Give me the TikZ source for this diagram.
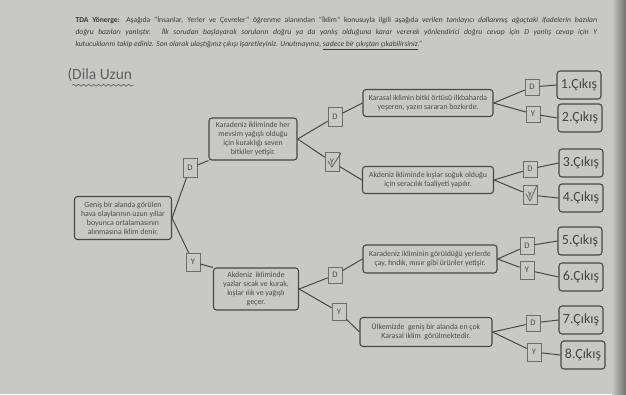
\documentclass[tikz,border=0pt]{standalone}
\usepackage{fontspec}
\setmainfont{Carlito}
\usetikzlibrary{decorations.pathmorphing,calc}
\definecolor{paper}{RGB}{200,200,196}
\definecolor{ink}{RGB}{72,72,72}
\definecolor{txt}{RGB}{75,75,75}
\definecolor{pencil}{RGB}{95,95,100}
\begin{document}
\begin{tikzpicture}[x=1pt,y=-1pt,
  qbox/.style={draw=ink, line width=1.1pt, rounded corners=3pt, fill=paper, align=center, text=txt, inner sep=1pt, font=\fontsize{7.8}{9}\selectfont},
  dybox/.style={draw=ink!80, line width=0.6pt, fill=paper, minimum width=14pt, minimum height=16pt, inner sep=0pt, text=txt, font=\fontsize{8.5}{9}\selectfont},
  exitbox/.style={draw=ink, line width=1.1pt, rounded corners=3pt, fill=paper, minimum width=44pt, minimum height=28pt, inner sep=0pt, text=txt!90!black, font=\fontsize{14}{15}\selectfont},
  conn/.style={draw=ink, line width=1pt},
  check/.style={draw=pencil, line width=0.8pt, line cap=round, line join=round}]
\useasboundingbox (0,0) rectangle (626,394);
\fill[paper] (0,0) rectangle (626,394);
\shade[left color=paper, right color=paper!55!black] (612,0) rectangle (626,394);

% header
\node[anchor=north west, text width=522pt, align=justify, text=ink!80!black,
  font=\fontsize{7.6}{12}\selectfont] (hdr) at (72,13)
 {\hyphenpenalty=10000 \tolerance=10000 \textbf{TDA Yönerge:} Aşağıda "İnsanlar, Yerler ve Çevreler" öğrenme alanından "İklim" konusuyla ilgili aşağıda \textit{verilen tanılayıcı dallanmış ağaçtaki ifadelerin bazıları}\linebreak
 \textit{doğru bazıları yanlıştır. İlk sorudan başlayarak soruların doğru ya da yanlış olduğuna karar vererek yönlendirici doğru cevap için D yanlış cevap için Y}\linebreak
 \textit{kutucuklarını takip ediniz. Son olarak ulaştığınız çıkışı işaretleyiniz. Unutmayınız, \underline{sadece bir çıkıştan çıkabilirsiniz}."}\hfill\null};

% handwriting
\node[anchor=west, text=pencil, font=\fontsize{15.5}{16}\selectfont] (name) at (64,75) {(Dila Uzun};
\draw[pencil, line width=0.6pt, decorate, decoration={snake, amplitude=1pt, segment length=5pt}] ($(name.south west)+(8,0)$) -- ($(name.south east)+(-2,0)$);

% question boxes
\node[qbox, minimum width=97pt, minimum height=43pt] (root) at (123,218)
 {Geniş bir alanda görülen\\hava olaylarının uzun yıllar\\boyunca ortalamasının\\alınmasına iklim denir.};
\node[qbox, minimum width=88pt, minimum height=42pt] (A) at (253,139)
 {Karadeniz ikliminde her\\mevsim yağışlı olduğu\\için kuraklığı seven\\bitkiler yetişir.};
\node[qbox, minimum width=85pt, minimum height=42pt] (B) at (256,289)
 {Akdeniz\ \ ikliminde\\yazlar sıcak ve kurak,\\kışlar ılık ve yağışlı\\geçer.};
\node[qbox, minimum width=130pt, minimum height=27pt] (C) at (428,103)
 {Karasal iklimin bitki örtüsü ilkbaharda\\yeşeren, yazın sararan bozkırdır.};
\node[qbox, minimum width=131pt, minimum height=27pt] (E) at (428,180)
 {Akdeniz ikliminde kışlar soğuk olduğu\\için seracılık faaliyeti yapılır.};
\node[qbox, minimum width=134pt, minimum height=28pt] (F) at (430,259)
 {Karadeniz ikliminin görüldüğü yerlerde\\çay, fındık, mısır gibi ürünler yetişir.};
\node[qbox, minimum width=132pt, minimum height=29pt] (G) at (426,332)
 {Ülkemizde\ \ geniş bir alanda en çok\\Karasal iklim\ \ görülmektedir.};

% D/Y boxes
\node[dybox, minimum height=19pt] (d0) at (190,168) {D};
\node[dybox, minimum height=18pt] (y0) at (193,262) {Y};
\node[dybox, minimum height=19pt] (dA) at (335,117) {D};
\node[dybox, minimum height=19pt] (yA) at (332,162) {Y};
\node[dybox, minimum height=16pt] (dB) at (335,275) {D};
\node[dybox, minimum height=17pt] (yB) at (339,312) {Y};
\node[dybox] (dC) at (532,87) {D};
\node[dybox] (yC) at (533,114) {Y};
\node[dybox] (dE) at (530,169) {D};
\node[dybox, minimum height=19pt] (yE) at (530,195) {Y};
\node[dybox, minimum height=17pt] (dF) at (527,246) {D};
\node[dybox, minimum height=18pt] (yF) at (527,270) {Y};
\node[dybox] (dG) at (533,323) {D};
\node[dybox, minimum height=18pt] (yG) at (534,352) {Y};

% exits
\node[exitbox] (x1) at (579,85) {1.Çıkış};
\node[exitbox] (x2) at (580,118) {2.Çıkış};
\node[exitbox] (x3) at (581,163) {3.Çıkış};
\node[exitbox] (x4) at (581,198) {4.Çıkış};
\node[exitbox] (x5) at (580,241) {5.Çıkış};
\node[exitbox] (x6) at (581,277) {6.Çıkış};
\node[exitbox] (x7) at (581,320) {7.Çıkış};
\node[exitbox] (x8) at (583,355) {8.Çıkış};

% connectors
\path[conn] (root.east) -- (d0) (d0) -- (A.south west);
\path[conn] (root.east) -- (y0) (y0) -- (B.north west);
\path[conn] (A.east) -- (dA) (dA) -- (C.west);
\path[conn] (A.east) -- (yA) (yA) -- (E.west);
\path[conn] (B.east) -- (dB) (dB) -- (F.west);
\path[conn] (B.east) -- (yB) (yB) -- (G.west);
\path[conn] (C.east) -- (dC) (dC) -- (x1.west);
\path[conn] (C.east) -- (yC) (yC) -- (x2.west);
\path[conn] (E.east) -- (dE) (dE) -- (x3.west);
\path[conn] (E.east) -- (yE) (yE) -- (x4.west);
\path[conn] (F.east) -- (dF) (dF) -- (x5.west);
\path[conn] (F.east) -- (yF) (yF) -- (x6.west);
\path[conn] (G.east) -- (dG) (dG) -- (x7.west);
\path[conn] (G.east) -- (yG) (yG) -- (x8.west);

% pencil ticks
\draw[check] ($(yA.center)+(-4,-1)$) -- ($(yA.center)+(0,5)$) -- ($(yA.center)+(9,-9)$);
\draw[check] ($(yE.center)+(-4,-1)$) -- ($(yE.center)+(0,6)$) -- ($(yE.center)+(7,-10)$);
\end{tikzpicture}
\end{document}
